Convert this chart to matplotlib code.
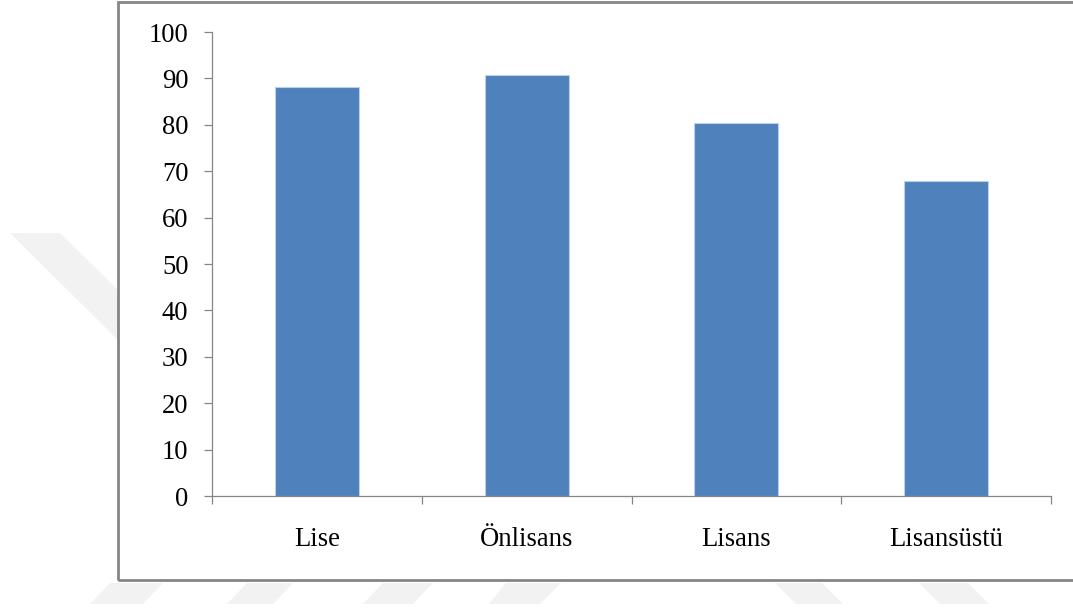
import matplotlib
matplotlib.use("Agg")
import matplotlib.pyplot as plt
from matplotlib.patches import Rectangle, Polygon
from matplotlib.ticker import FixedLocator

# Data
categories = ["Lise", "Önlisans", "Lisans", "Lisansüstü"]
values = [88.1, 90.8, 80.3, 67.8]
y_ticks = [0, 10, 20, 30, 40, 50, 60, 70, 80, 90, 100]

W, H = 1073, 608
plt.rcParams['font.family'] = ['Liberation Serif', 'DejaVu Serif']

fig = plt.figure(figsize=(W / 100, H / 100), dpi=100)
fig.patch.set_facecolor('white')


def px(x, y):
    """Pixel position (origin top-left) -> figure fraction."""
    return (x / W, 1 - y / H)


# Faint background watermark pieces
wm_color = '#f2f2f2'
wm_shapes = [
    [(10, 233), (60, 233), (118, 290), (118, 340)],
    [(90, 604), (143, 604), (163, 583), (110, 583)],
    [(227, 604), (273, 604), (293, 583), (247, 583)],
    [(363, 604), (413, 604), (433, 583), (383, 583)],
    [(489, 604), (540, 604), (561, 583), (506, 583)],
    [(775, 583), (822, 583), (843, 604), (796, 604)],
    [(919, 583), (968, 583), (989, 604), (940, 604)],
]
for pts in wm_shapes:
    fig.add_artist(Polygon([px(*p) for p in pts], closed=True,
                           transform=fig.transFigure, facecolor=wm_color,
                           edgecolor='none', zorder=0))

# Outer chart frame
x0, y0 = px(118, 580)
frame = Rectangle((x0, y0), (1090 - 118) / W, (580 - 2) / H,
                  transform=fig.transFigure, facecolor='none',
                  edgecolor='#858585', linewidth=2.0, zorder=1)
fig.add_artist(frame)

# Plot area
ax = fig.add_axes([212 / W, 1 - 496 / H, (1051 - 212) / W, (496 - 32) / H])
ax.set_facecolor('none')

positions = list(range(len(categories)))
ax.bar(positions, values, width=0.4, color='#4f81bd',
       edgecolor='#bcd0ea', linewidth=0.8, zorder=2)

ax.set_xlim(-0.5, len(categories) - 0.5)
ax.set_ylim(0, 100)
ax.set_yticks(y_ticks)
ax.set_xticks(positions)
ax.set_xticklabels(categories)
ax.xaxis.set_minor_locator(FixedLocator([p - 0.5 for p in range(len(categories) + 1)]))

axis_color = '#868686'
for side in ('top', 'right'):
    ax.spines[side].set_visible(False)
for side in ('left', 'bottom'):
    ax.spines[side].set_color(axis_color)
    ax.spines[side].set_linewidth(0.9)

ax.tick_params(axis='y', direction='out', length=5.5, width=0.9,
               color=axis_color, labelsize=19.2, pad=11.5, labelcolor='black')
ax.tick_params(axis='x', which='major', length=0, labelsize=19.2, pad=22,
               labelcolor='black')
ax.tick_params(axis='x', which='minor', direction='out', length=5.5,
               width=0.9, color=axis_color)

fig.savefig('out.png', dpi=100, facecolor='white')
